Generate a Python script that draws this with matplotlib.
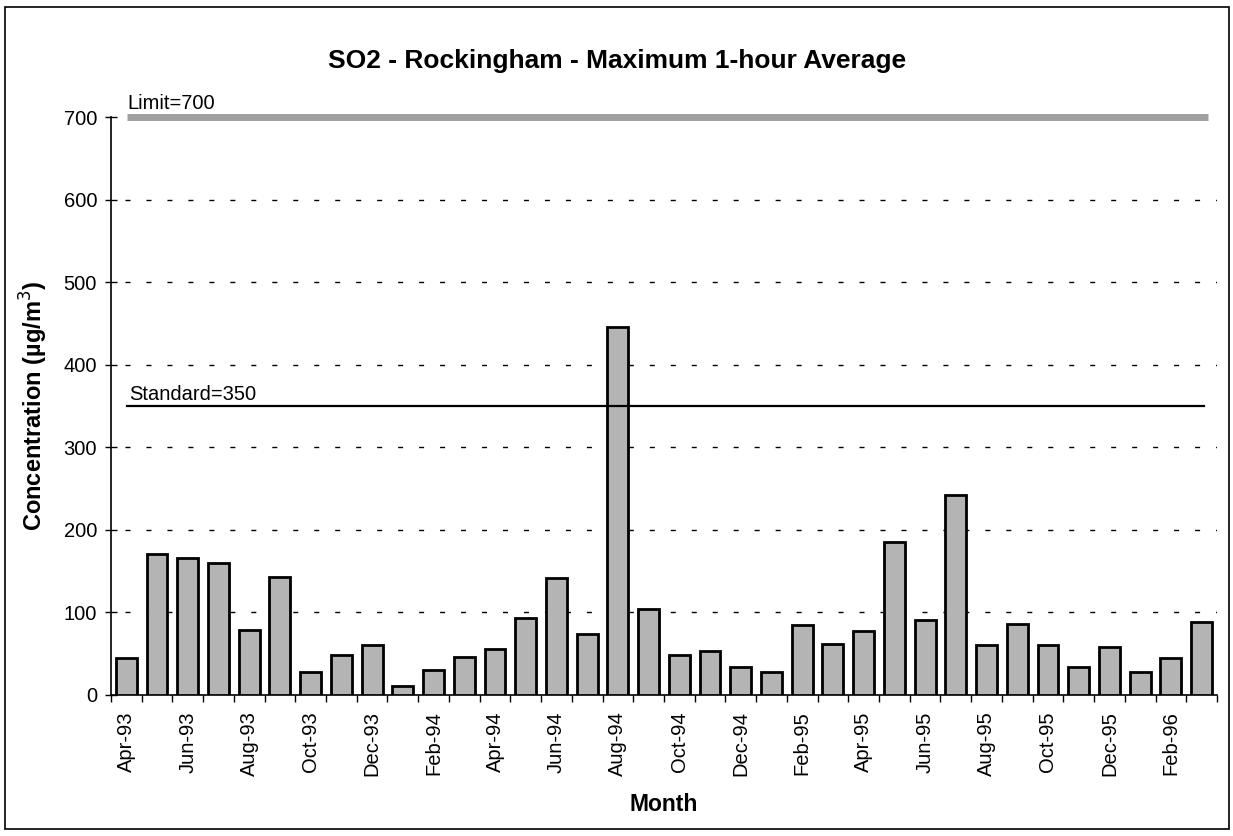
import matplotlib
matplotlib.use("Agg")
import matplotlib.pyplot as plt
from matplotlib.patches import Rectangle

plt.rcParams['font.family'] = ['Liberation Sans', 'DejaVu Sans']

months = ["Apr-93", "May-93", "Jun-93", "Jul-93", "Aug-93", "Sep-93", "Oct-93", "Nov-93", "Dec-93",
          "Jan-94", "Feb-94", "Mar-94", "Apr-94", "May-94", "Jun-94", "Jul-94", "Aug-94", "Sep-94",
          "Oct-94", "Nov-94", "Dec-94", "Jan-95", "Feb-95", "Mar-95", "Apr-95", "May-95", "Jun-95",
          "Jul-95", "Aug-95", "Sep-95", "Oct-95", "Nov-95", "Dec-95", "Jan-96", "Feb-96", "Mar-96"]
values = [45, 170, 166, 160, 78, 143, 27, 48, 60, 10, 30, 46, 55, 93, 141, 74, 445, 104,
          48, 53, 33, 28, 84, 61, 77, 185, 90, 242, 60, 86, 60, 33, 58, 28, 45, 88]
limit_value = 700
standard_value = 350
yticks = [0, 100, 200, 300, 400, 500, 600, 700]

fig = plt.figure(figsize=(12.33, 8.36), dpi=100)
ax = fig.add_axes([0.090, 0.169, 0.897, 0.691])

x = list(range(len(months)))
ax.bar(x, values, width=0.68, color='#b4b4b4', edgecolor='black', linewidth=2.0, zorder=3)

ax.set_xlim(-0.5, len(months) - 0.5)
ax.set_ylim(0, 700)

# dashed gridlines
for v in yticks[1:-1]:
    ax.plot([-0.05, len(months) - 0.5], [v, v], color='black', linewidth=1.0,
            dashes=(3.6, 11.5), zorder=1)

# limit & standard lines
ax.plot([0.02, 35.2], [limit_value, limit_value], color='#a0a0a0', linewidth=5.0,
        solid_capstyle='butt', zorder=4, clip_on=False)
ax.plot([0.02, 35.07], [standard_value, standard_value], color='black', linewidth=1.6,
        zorder=4, clip_on=False)
ax.text(0.02, limit_value + 10, f"Limit={limit_value}", fontsize=14.5, ha='left', va='baseline')
ax.text(0.086, standard_value + 7, f"Standard={standard_value}", fontsize=14.5, ha='left', va='baseline')

for s in ['top', 'right']:
    ax.spines[s].set_visible(False)
ax.spines['left'].set_linewidth(1.2)
ax.spines['bottom'].set_linewidth(1.2)

ax.set_yticks(yticks)
ax.set_yticklabels([str(v) for v in yticks], fontsize=14.5)
ax.tick_params(axis='y', direction='inout', length=8, width=1.0, pad=6)

ax.set_xticks([i - 0.5 for i in range(len(months) + 1)], minor=True)
ax.set_xticks(x[::2])
ax.set_xticklabels(months[::2], rotation=90, fontsize=14.5)
ax.tick_params(axis='x', which='major', length=0, pad=12)
ax.tick_params(axis='x', which='minor', direction='out', length=5, width=1.0)

fig.text(617 / 1233, 1 - 61 / 836, "SO2 - Rockingham - Maximum 1-hour Average",
         fontsize=19, fontweight='bold', ha='center', va='center')
ax.set_ylabel("Concentration (\u00b5g/m$^3$)", fontsize=17, fontweight='bold', labelpad=10)
ax.set_xlabel("Month", fontsize=16.5, fontweight='bold', labelpad=12)

fig.patches.append(Rectangle((5 / 1233, 7 / 836), 1224 / 1233, 822 / 836, transform=fig.transFigure,
                             fill=False, edgecolor='black', linewidth=1.2))

fig.savefig("out.png", dpi=100)
